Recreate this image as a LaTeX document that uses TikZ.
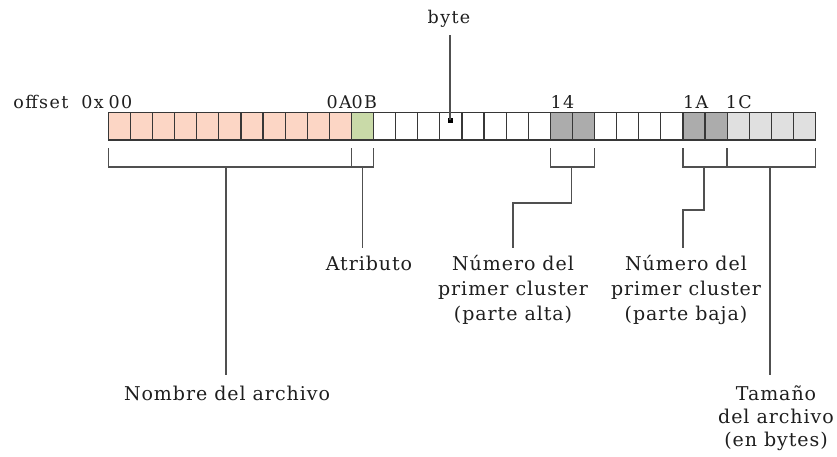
\documentclass[tikz,border=0pt]{standalone}
\usepackage{fontspec}
\setmainfont{DejaVu Serif}
\newfontfamily\toplblfont{DejaVu Serif}[LetterSpace=8]
\newfontfamily\lblfont{DejaVu Serif}[LetterSpace=5]
\usetikzlibrary{calc}
\definecolor{nm}{RGB}{252,214,197}
\definecolor{at}{RGB}{201,218,168}
\definecolor{dg}{RGB}{172,172,172}
\definecolor{lg}{RGB}{224,224,224}
\definecolor{cl}{RGB}{55,55,55}
\definecolor{bl}{RGB}{80,80,80}
\definecolor{tx}{RGB}{30,30,30}
\tikzset{
  cell/.style={draw=cl,line width=1.2pt,minimum width=22.1pt,minimum height=27.7pt,inner sep=0pt,outer sep=0pt},
  br/.style={draw=bl,line width=1.3pt},
  toplbl/.style={inner sep=0pt,text=tx,font={\toplblfont\fontsize{17.5}{20}\selectfont}},
  lbl/.style={inner sep=0pt,align=center,text=tx,font={\lblfont\fontsize{19}{25}\selectfont}},
  lblb/.style={inner sep=0pt,align=center,text=tx,font={\lblfont\fontsize{19}{23}\selectfont}}
}
\begin{document}
\begin{tikzpicture}[x=1pt,y=-1pt]
\useasboundingbox (0,0) rectangle (837,456);
% cells
\foreach \i in {0,...,10} \node[cell,fill=nm] (c\i) at ({108.3+(\i+0.5)*22.1},126.15) {};
\node[cell,fill=at] (c11) at ({108.3+11.5*22.1},126.15) {};
\foreach \i in {12,...,19} \node[cell,fill=white] (c\i) at ({108.3+(\i+0.5)*22.1},126.15) {};
\foreach \i in {20,21} \node[cell,fill=dg] (c\i) at ({108.3+(\i+0.5)*22.1},126.15) {};
\foreach \i in {22,...,25} \node[cell,fill=white] (c\i) at ({108.3+(\i+0.5)*22.1},126.15) {};
\foreach \i in {26,27} \node[cell,fill=dg] (c\i) at ({108.3+(\i+0.5)*22.1},126.15) {};
\foreach \i in {28,...,31} \node[cell,fill=lg] (c\i) at ({108.3+(\i+0.5)*22.1},126.15) {};
% top labels
\node[toplbl,anchor=base east] (off) at (104,108.3) {offset\hspace{6pt} 0x};
\node[toplbl,anchor=base west] (l00) at (c0.north west |- off.base) {00};
\node[toplbl,anchor=base east] (l0A) at ([xshift=0.5pt]c10.north east |- off.base) {0A};
\node[toplbl,anchor=base west] (l0B) at (c11.north west |- off.base) {0B};
\node[toplbl,anchor=base west] (l14) at (c20.north west |- off.base) {14};
\node[toplbl,anchor=base west] (l1A) at (c26.north west |- off.base) {1A};
\node[toplbl,anchor=base west] (l1C) at ([xshift=-1.5pt]c28.north west |- off.base) {1C};
% byte marker
\node[fill=black,minimum size=5pt,inner sep=0pt] (dot) at (450,120) {};
\node[toplbl,anchor=base] (byte) at (449,23) {byte};
\coordinate (bytetop) at (450,35);
\draw[br] (dot.center) -- (bytetop);
% brackets
\draw[br] ([yshift=-8pt]c0.south west) -- ([yshift=-27pt]c0.south west) -- ([yshift=-27pt]c11.south west) -- ([yshift=-8pt]c11.south west);
\draw[br] ([yshift=-27pt]c11.south west) -- ([yshift=-27pt]c11.south east) -- ([yshift=-8pt]c11.south east);
\draw[br] ([yshift=-8pt]c20.south west) -- ([yshift=-27pt]c20.south west) -- ([yshift=-27pt]c21.south east) -- ([yshift=-8pt]c21.south east);
\draw[br] ([yshift=-8pt]c26.south west) -- ([yshift=-27pt]c26.south west) -- ([yshift=-27pt]c27.south east) -- ([yshift=-8pt]c27.south east);
\draw[br] ([yshift=-27pt]c27.south east) -- ([yshift=-27pt]c31.south east) -- ([yshift=-8pt]c31.south east);
% labels
\node[lblb,anchor=base] (nombre) at (227,400.7) {Nombre del archivo};
\node[lbl,anchor=base] (atrib) at (369,270) {Atributo};
\node[lbl,anchor=base] (alta) at (513,320) {Número del\\primer cluster\\(parte alta)};
\node[lbl,anchor=base] (baja) at (686,320) {Número del\\primer cluster\\(parte baja)};
\node[lblb,anchor=base] (tam) at (776,446) {Tamaño\\del archivo\\(en bytes)};
% stems
\coordinate (s1a) at (226,167); \coordinate (s1b) at (226,375);
\coordinate (s2a) at (362.5,167); \coordinate (s2b) at (362.5,248);
\coordinate (s3a) at (571.7,167); \coordinate (s3b) at (513,248);
\coordinate (s4a) at (704,167); \coordinate (s4b) at (683,248);
\coordinate (s5a) at (770,167); \coordinate (s5b) at (770,375);
\draw[br] (s1a) -- (s1b);
\draw[br] (s2a) -- (s2b);
\draw[br] (s3a) -- (571.7,203) -| (s3b);
\draw[br] (s4a) -- (704,210) -| (s4b);
\draw[br] (s5a) -- (s5b);
\end{tikzpicture}
\end{document}
